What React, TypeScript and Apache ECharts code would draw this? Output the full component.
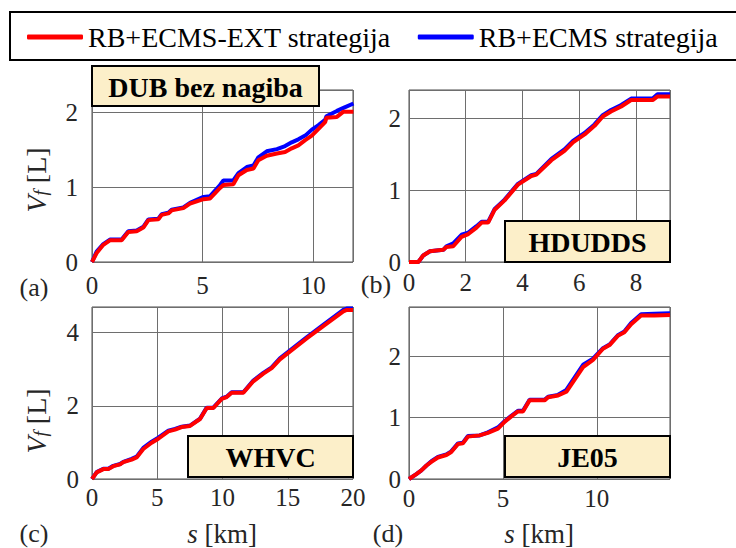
import React, { useEffect, useRef } from "react";
import * as echarts from "echarts";

const SERIES_NAMES = ["RB+ECMS-EXT strategija", "RB+ECMS strategija"];
const PANEL_TITLES = ["DUB bez nagiba", "HDUDDS", "WHVC", "JE05"];
const PANEL_TAGS = ["(a)", "(b)", "(c)", "(d)"];

// (a) DUB bez nagiba
const X_A = [0, 0.21, 0.51, 0.81, 1.34, 1.64, 2.02, 2.32, 2.55, 3.0, 3.15, 3.45, 3.6, 4.13, 4.43, 5.04, 5.34, 5.79, 5.94, 6.39, 6.62, 7.0, 7.3, 7.52, 7.9, 8.36, 8.73, 9.03, 9.33, 9.64, 9.94, 10.24, 10.54, 10.6, 11.07, 11.37, 11.82];
const RED_A = [0, 0.12, 0.23, 0.29, 0.29, 0.4, 0.41, 0.46, 0.56, 0.57, 0.63, 0.65, 0.69, 0.72, 0.78, 0.84, 0.85, 0.99, 1.03, 1.04, 1.16, 1.23, 1.25, 1.36, 1.42, 1.45, 1.47, 1.52, 1.56, 1.63, 1.69, 1.78, 1.87, 1.93, 1.94, 2.01, 2.01];
const BLUE_A = [0, 0.14, 0.24, 0.3, 0.3, 0.41, 0.42, 0.47, 0.57, 0.58, 0.64, 0.66, 0.7, 0.73, 0.79, 0.87, 0.88, 1.03, 1.09, 1.09, 1.19, 1.27, 1.29, 1.4, 1.48, 1.51, 1.55, 1.6, 1.64, 1.69, 1.77, 1.83, 1.9, 1.95, 2.02, 2.06, 2.12];

// (b) HDUDDS
const X_B = [0, 0.33, 0.5, 0.74, 0.97, 1.21, 1.32, 1.56, 1.85, 2.09, 2.38, 2.56, 2.79, 3.02, 3.37, 3.84, 4.31, 4.49, 5.02, 5.48, 5.78, 6.19, 6.54, 6.83, 7.12, 7.48, 7.83, 8.59, 8.76, 9.2];
const RED_B = [0, 0, 0.09, 0.15, 0.16, 0.17, 0.21, 0.22, 0.35, 0.39, 0.48, 0.55, 0.55, 0.73, 0.86, 1.08, 1.2, 1.22, 1.42, 1.55, 1.67, 1.78, 1.9, 2.03, 2.1, 2.17, 2.26, 2.26, 2.31, 2.31];
const BLUE_B = [0, 0, 0.09, 0.15, 0.16, 0.17, 0.22, 0.26, 0.38, 0.41, 0.5, 0.56, 0.56, 0.74, 0.87, 1.09, 1.21, 1.23, 1.44, 1.57, 1.69, 1.8, 1.92, 2.05, 2.12, 2.19, 2.28, 2.28, 2.34, 2.34];

// (c) WHVC
const X_C = [0, 0.36, 0.87, 1.25, 1.63, 2.15, 2.4, 3.04, 3.42, 3.93, 4.57, 5.08, 5.85, 6.36, 6.87, 7.51, 8.28, 8.79, 9.3, 9.94, 10.32, 10.7, 11.6, 12.36, 13.13, 13.77, 14.4, 16.45, 17.72, 19.26, 19.52, 20];
const RED_C = [0, 0.18, 0.27, 0.27, 0.35, 0.4, 0.46, 0.53, 0.59, 0.82, 0.99, 1.1, 1.3, 1.35, 1.42, 1.45, 1.64, 1.94, 1.94, 2.19, 2.24, 2.36, 2.36, 2.67, 2.88, 3.03, 3.27, 3.84, 4.18, 4.58, 4.62, 4.62];
const BLUE_C = [0, 0.19, 0.28, 0.28, 0.36, 0.41, 0.47, 0.55, 0.61, 0.85, 1.02, 1.13, 1.32, 1.37, 1.43, 1.46, 1.65, 1.95, 1.95, 2.2, 2.25, 2.37, 2.37, 2.69, 2.9, 3.05, 3.3, 3.87, 4.21, 4.62, 4.66, 4.66];

// (d) JE05
const X_D = [0, 0.39, 0.66, 0.93, 1.19, 1.54, 1.99, 2.25, 2.61, 2.87, 3.14, 3.76, 4.2, 4.74, 5.09, 5.45, 5.8, 6.07, 6.42, 7.22, 7.41, 7.94, 8.38, 9.27, 9.8, 10.33, 10.68, 11.12, 11.47, 11.83, 12.36, 13.07, 13.9];
const RED_D = [0, 0.08, 0.14, 0.22, 0.28, 0.35, 0.39, 0.44, 0.57, 0.58, 0.69, 0.71, 0.75, 0.82, 0.93, 1.02, 1.1, 1.1, 1.28, 1.28, 1.33, 1.36, 1.42, 1.82, 1.94, 2.12, 2.18, 2.33, 2.39, 2.52, 2.66, 2.66, 2.67];
const BLUE_D = [0, 0.08, 0.14, 0.22, 0.29, 0.36, 0.4, 0.45, 0.58, 0.59, 0.7, 0.71, 0.76, 0.84, 0.94, 1.03, 1.11, 1.11, 1.29, 1.29, 1.34, 1.37, 1.45, 1.86, 1.96, 2.13, 2.19, 2.34, 2.4, 2.54, 2.68, 2.69, 2.7];

// axis extents and tick steps
const X_MAX = [11.8, 9.2, 20, 13.9];
const X_STEP = [5, 2, 5, 5];
const Y_MAX = [2.3, 2.4, 4.7, 2.8];
const Y_STEP = [1, 1, 2, 1];

const FONT = "Liberation Serif";
const RED = "#ff0000";
const BLUE = "#0000ff";

const zip = (xs: number[], ys: number[]) => xs.map((x, i) => [x, ys[i]]);

export default function App() {
  const ref = useRef<HTMLDivElement>(null);
  useEffect(() => {
    if (!ref.current) return;
    const chart = echarts.init(ref.current, null, { renderer: "svg" });

    const grids = [
      { left: 92, top: 90, width: 261, height: 172 },
      { left: 409, top: 90, width: 261, height: 172 },
      { left: 92, top: 307, width: 261, height: 172 },
      { left: 409, top: 307, width: 261, height: 172 },
    ];
    const xLabelMargin = [11, 8, 6, 7];
    const yLabelMargin = [14, 8, 13, 8];
    const xs = [X_A, X_B, X_C, X_D];
    const reds = [RED_A, RED_B, RED_C, RED_D];
    const blues = [BLUE_A, BLUE_B, BLUE_C, BLUE_D];

    const series: any[] = [];
    for (let i = 0; i < 4; i++) {
      series.push({
        type: "line",
        name: SERIES_NAMES[1],
        xAxisIndex: i,
        yAxisIndex: i,
        data: zip(xs[i], blues[i]),
        showSymbol: false,
        symbol: "none",
        lineStyle: { color: BLUE, width: 4 },
        itemStyle: { color: BLUE },
        z: 2,
      });
      series.push({
        type: "line",
        name: SERIES_NAMES[0],
        xAxisIndex: i,
        yAxisIndex: i,
        data: zip(xs[i], reds[i]),
        showSymbol: false,
        symbol: "none",
        lineStyle: { color: RED, width: 4 },
        itemStyle: { color: RED },
        z: 3,
      });
    }

    const labelStyle = { fontFamily: FONT, fontSize: 25, color: "#262626" };
    const splitLine = { show: true, lineStyle: { color: "#6e6e6e", width: 1 } };

    const boxes = [
      { x: 92, y: 66, w: 227, h: 40 },
      { x: 505, y: 221, w: 165, h: 41 },
      { x: 188, y: 436, w: 165, h: 41 },
      { x: 505, y: 436, w: 165, h: 41 },
    ];

    const graphic: any[] = [
      {
        type: "rect",
        shape: { x: 10, y: 12, width: 760, height: 48 },
        style: { fill: "none", stroke: "#000", lineWidth: 2 },
        z: 100,
      },
    ];
    boxes.forEach((b, i) => {
      graphic.push({
        type: "rect",
        shape: { x: b.x, y: b.y, width: b.w, height: b.h },
        style: { fill: "#fcefc9", stroke: "#000", lineWidth: 2 },
        z: 100,
      });
      graphic.push({
        type: "text",
        x: b.x + b.w / 2,
        y: b.y + b.h / 2 + 1,
        style: {
          text: PANEL_TITLES[i],
          fontFamily: FONT,
          fontSize: 28,
          fontWeight: "bold",
          fill: "#000",
          align: "center",
          verticalAlign: "middle",
        },
        z: 101,
      });
    });

    const tagPos = [
      [34, 287],
      [376, 284],
      [34, 533],
      [388, 533],
    ];
    tagPos.forEach((p, i) => {
      graphic.push({
        type: "text",
        x: p[0],
        y: p[1],
        style: {
          text: PANEL_TAGS[i],
          fontFamily: FONT,
          fontSize: 26,
          fill: "#262626",
          align: "center",
          verticalAlign: "middle",
        },
        z: 100,
      });
    });

    const yNamePos = [
      [36, 180],
      [36, 421],
    ];
    yNamePos.forEach((p) => {
      graphic.push({
        type: "text",
        x: p[0],
        y: p[1],
        rotation: Math.PI / 2,
        style: {
          text: "{v|V}{f|f}{n| [L]}",
          fontFamily: FONT,
          fill: "#262626",
          align: "center",
          verticalAlign: "middle",
          rich: {
            v: { fontFamily: FONT, fontSize: 28, fontStyle: "italic", fill: "#262626" },
            f: { fontFamily: FONT, fontSize: 19, fontStyle: "italic", fill: "#262626", verticalAlign: "bottom" },
            n: { fontFamily: FONT, fontSize: 28, fill: "#262626" },
          },
        },
        z: 100,
      });
    });

    const xNamePos = [
      [222, 534],
      [539, 534],
    ];
    xNamePos.forEach((p) => {
      graphic.push({
        type: "text",
        x: p[0],
        y: p[1],
        style: {
          text: "{s|s}{n| [km]}",
          fontFamily: FONT,
          fill: "#262626",
          align: "center",
          verticalAlign: "middle",
          rich: {
            s: { fontFamily: FONT, fontSize: 27, fontStyle: "italic", fill: "#262626" },
            n: { fontFamily: FONT, fontSize: 27, fill: "#262626" },
          },
        },
        z: 100,
      });
    });

    const option: any = {
      animation: false,
      backgroundColor: "#ffffff",
      legend: {
        left: 27,
        top: 23,
        width: 720,
        padding: 0,
        icon: "roundRect",
        itemWidth: 56,
        itemHeight: 5,
        itemGap: 27,
        data: SERIES_NAMES,
        textStyle: { fontFamily: FONT, fontSize: 28, color: "#000" },
        selectedMode: false,
      },
      grid: grids.map((g) => ({
        ...g,
        show: true,
        borderColor: "#4d4d4d",
        borderWidth: 1,
        backgroundColor: "#fff",
        containLabel: false,
      })),
      xAxis: grids.map((_, i) => ({
        type: "value",
        gridIndex: i,
        min: 0,
        max: X_MAX[i],
        interval: X_STEP[i],
        axisLine: { show: false },
        axisTick: { show: false },
        splitLine,
        axisLabel: {
          ...labelStyle,
          margin: xLabelMargin[i],
          showMaxLabel: i === 2,
          showMinLabel: true,
        },
      })),
      yAxis: grids.map((_, i) => ({
        type: "value",
        gridIndex: i,
        min: 0,
        max: Y_MAX[i],
        interval: Y_STEP[i],
        axisLine: { show: false },
        axisTick: { show: false },
        splitLine,
        axisLabel: {
          ...labelStyle,
          margin: yLabelMargin[i],
          showMaxLabel: false,
          showMinLabel: true,
        },
      })),
      series,
      graphic,
    };
    chart.setOption(option);
    return () => chart.dispose();
  }, []);

  return (
    <div
      ref={ref}
      style={{ position: "absolute", left: 0, top: 0, width: 736, height: 548 }}
    />
  );
}
